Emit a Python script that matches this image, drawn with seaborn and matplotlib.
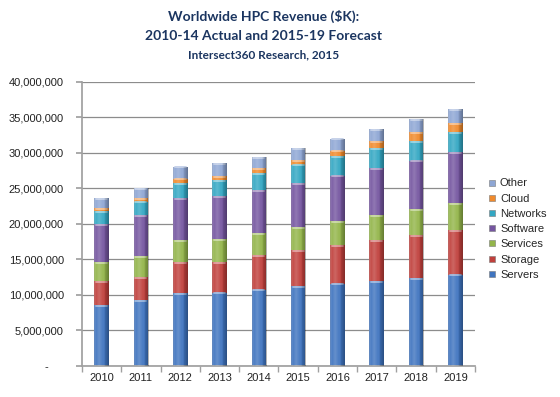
import numpy as np
import pandas as pd
import seaborn as sns
import matplotlib.pyplot as plt
from matplotlib.lines import Line2D
from matplotlib.colors import to_rgb
from matplotlib.ticker import FuncFormatter, FixedLocator

# HPC revenue in $K
years = ['2010', '2011', '2012', '2013', '2014', '2015', '2016', '2017', '2018', '2019']
servers = [8550000, 9260000, 10200000, 10330000, 10750000, 11220000, 11600000, 11960000, 12380000, 12860000]
storage = [3350000, 3270000, 4430000, 4300000, 4910000, 5150000, 5470000, 5810000, 6090000, 6310000]
services = [2700000, 2940000, 3040000, 3230000, 3090000, 3230000, 3330000, 3430000, 3590000, 3790000]
software = [5400000, 5730000, 5990000, 6040000, 6050000, 6160000, 6400000, 6670000, 6840000, 7100000]
networks = [1800000, 1940000, 2100000, 2300000, 2400000, 2570000, 2700000, 2800000, 2800000, 2860000]
cloud = [400000, 520000, 610000, 550000, 600000, 670000, 800000, 930000, 1160000, 1260000]
other = [1400000, 1400000, 1680000, 1850000, 1550000, 1670000, 1700000, 1740000, 1880000, 1960000]

series = ['Servers', 'Storage', 'Services', 'Software', 'Networks', 'Cloud', 'Other']
colors = ['#3F74BF', '#C0403C', '#93B54A', '#7556A0', '#33A7C3', '#F08A2C', '#8EA6D4']

df = pd.DataFrame({'Servers': servers, 'Storage': storage, 'Services': services,
                   'Software': software, 'Networks': networks, 'Cloud': cloud,
                   'Other': other}, index=years)
cum = df[series].cumsum(axis=1)

sns.set_theme(style='white')
plt.rcParams['font.family'] = ['Liberation Sans', 'DejaVu Sans']

fig = plt.figure(figsize=(5.6, 3.97), dpi=100)
ax = fig.add_axes([0.1464, 0.0781, 0.7018, 0.7161])

# stacked bars: draw the running totals from the top layer down
for name, col in zip(series[::-1], colors[::-1]):
    sns.barplot(x=years, y=cum[name].values, color=col, saturation=1,
                width=0.37, errorbar=None, ax=ax, linewidth=0, zorder=2)

# light rim at the top of every segment
for p in list(ax.patches):
    rgb = np.array(to_rgb(p.get_facecolor()))
    rim = rgb + (1 - rgb) * 0.45
    x0, w, top = p.get_x(), p.get_width(), p.get_y() + p.get_height()
    ax.plot([x0 + w * 0.12, x0 + w * 0.88], [top - 120000, top - 120000],
            color=rim, linewidth=1.3, solid_capstyle='round', zorder=2.5)

# a soft cylinder shading across each full column
first = len(years)
shade = np.zeros((1, 60, 4))
xs = np.linspace(0, 1, 60)
light = np.clip(1 - np.abs(xs - 0.35) / 0.35, 0, 1)
dark = np.clip((xs - 0.6) / 0.4, 0, 1) + np.clip((0.12 - xs) / 0.12, 0, 1)
shade[0, :, :3] = np.where(light[:, None] > 0, 1.0, 0.0)
shade[0, :, 3] = 0.2 * light + 0.32 * dark
for p in ax.patches[:first]:
    x0, y0 = p.get_x(), p.get_y()
    im = ax.imshow(shade, extent=[x0, x0 + p.get_width(), y0, y0 + p.get_height()],
                   aspect='auto', zorder=3, interpolation='bilinear')
    im.set_clip_path(p)

ax.set_xlim(-0.5, len(years) - 0.5)
ax.set_ylim(0, 40000000)
ax.set_yticks(np.arange(0, 40000001, 5000000))
ax.yaxis.set_major_formatter(FuncFormatter(lambda v, p: '-     ' if v == 0 else f'{int(v):,}'))
ax.grid(axis='y', color='#8c8c8c', linewidth=0.9)
ax.set_axisbelow(True)

for s in ['top', 'right']:
    ax.spines[s].set_visible(False)
ax.spines['left'].set_color('#a0a0a0')
ax.spines['bottom'].set_color('#a0a0a0')
ax.tick_params(axis='y', which='major', left=True, length=4, color='#a0a0a0',
               labelsize=8, labelcolor='#222222', pad=9)
ax.tick_params(axis='x', which='major', length=0, labelsize=8, labelcolor='#222222', pad=5)
ax.xaxis.set_minor_locator(FixedLocator(np.arange(-0.5, len(years), 1)))
ax.tick_params(axis='x', which='minor', bottom=True, length=4, color='#a0a0a0')
ax.set_xlabel('')
ax.set_ylabel('')

handles = [Line2D([], [], marker='s', linestyle='', markersize=5, markerfacecolor=c,
                  markeredgecolor='#7a7a7a', markeredgewidth=0.4)
           for c in colors[::-1]]
fig.legend(handles, series[::-1], loc='center left', bbox_to_anchor=(0.872, 0.423),
           frameon=False, fontsize=8, handlelength=0.7, handletextpad=0.35,
           labelspacing=0.47, borderpad=0, borderaxespad=0)

navy = '#1B3560'
fig.text(0.471, 0.959, 'Worldwide HPC Revenue ($K):', ha='center', va='center',
         fontsize=10, fontweight='bold', color=navy, family='Lato')
fig.text(0.471, 0.909, '2010-14 Actual and 2015-19 Forecast', ha='center', va='center',
         fontsize=10, fontweight='bold', color=navy, family='Lato')
fig.text(0.471, 0.861, 'Intersect360 Research, 2015', ha='center', va='center',
         fontsize=8.5, fontweight='bold', color=navy, family='Lato')

fig.savefig('out.png', dpi=100)
